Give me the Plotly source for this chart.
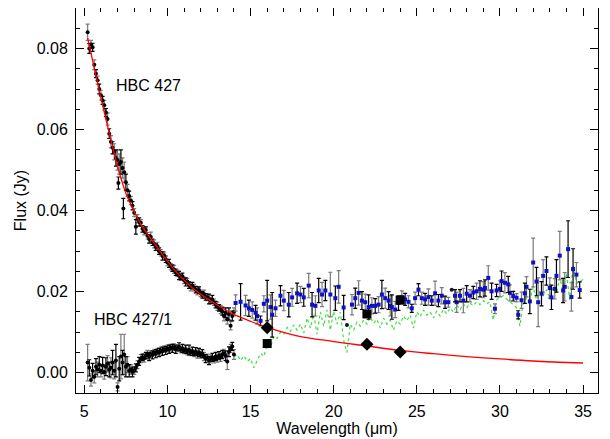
import plotly.graph_objects as go

# ---------------- data ----------------
# HBC 427 (short-low module, black points)
hbc_x = [5.2, 5.3, 5.4, 5.5, 5.6, 5.7, 5.8, 5.9, 6.0, 6.1, 6.2, 6.3, 6.4, 6.5, 6.6, 6.7, 6.8, 6.9,
         7.0, 7.05, 7.1, 7.2, 7.3, 7.35, 7.4, 7.5, 7.6, 7.7, 7.8, 7.9,
         8.0, 8.1, 8.2, 8.3, 8.4, 8.5, 8.6, 8.7, 8.8, 8.9, 9.0, 9.1, 9.2, 9.3, 9.4, 9.5, 9.6, 9.7, 9.8, 9.9,
         10.0, 10.1, 10.2, 10.3, 10.4, 10.5, 10.6, 10.7, 10.8, 10.9, 11.0, 11.1, 11.2, 11.3, 11.4, 11.5,
         11.6, 11.7, 11.8, 11.9, 12.0, 12.1, 12.2, 12.3, 12.4, 12.5, 12.6, 12.7, 12.8, 12.9,
         13.0, 13.1, 13.2, 13.3, 13.4, 13.5, 13.6, 13.7, 13.8, 13.9, 14.0]
hbc_y = [0.0840, 0.0800, 0.0810, 0.0803, 0.0760, 0.0738, 0.0722, 0.0700, 0.0685, 0.0672, 0.0660, 0.0642,
         0.0626, 0.0590, 0.0570, 0.0555, 0.0545, 0.0530,
         0.0525, 0.0468, 0.0515, 0.0520, 0.0505, 0.0405, 0.0495, 0.0470, 0.0450, 0.0436, 0.0425, 0.0412,
         0.0395, 0.0360, 0.0380, 0.0372, 0.0370, 0.0355, 0.0350, 0.0352, 0.0338, 0.0330, 0.0335, 0.0322,
         0.0318, 0.0310, 0.0312, 0.0300, 0.0296, 0.0288, 0.0290, 0.0280,
         0.0272, 0.0270, 0.0262, 0.0258, 0.0255, 0.0248, 0.0245, 0.0240, 0.0236, 0.0238, 0.0228, 0.0224,
         0.0225, 0.0216, 0.0212, 0.0215,
         0.0210, 0.0205, 0.0202, 0.0204, 0.0196, 0.0192, 0.0194, 0.0187, 0.0186, 0.0182, 0.0178, 0.0181,
         0.0174, 0.0168,
         0.0164, 0.0160, 0.0156, 0.0152, 0.0140, 0.0148, 0.0132, 0.0145, 0.0116, 0.0140, 0.0150]
hbc_err = [0.0020, 0.0012, 0.0010, 0.0010, 0.0012, 0.0010, 0.0010, 0.0012, 0.0012, 0.0010, 0.0012, 0.0010,
           0.0015, 0.0012, 0.0015, 0.0015, 0.0020, 0.0020,
           0.0025, 0.0015, 0.0025, 0.0030, 0.0025, 0.0025, 0.0025, 0.0020, 0.0015, 0.0012, 0.0010, 0.0010,
           0.0010, 0.0018, 0.0010, 0.0010, 0.0008, 0.0008, 0.0010, 0.0008, 0.0008, 0.0010, 0.0012, 0.0008,
           0.0010, 0.0008, 0.0010, 0.0008, 0.0008, 0.0010, 0.0008, 0.0008,
           0.0008, 0.0010, 0.0008, 0.0008, 0.0010, 0.0008, 0.0008, 0.0010, 0.0008, 0.0008, 0.0008, 0.0010,
           0.0008, 0.0008, 0.0010, 0.0008,
           0.0008, 0.0008, 0.0010, 0.0008, 0.0008, 0.0008, 0.0010, 0.0008, 0.0008, 0.0012, 0.0008, 0.0010,
           0.0008, 0.0008,
           0.0010, 0.0008, 0.0010, 0.0010, 0.0012, 0.0012, 0.0012, 0.0015, 0.0010, 0.0012, 0.0010]

# HBC 427/1 (companion, black points)
comp_x = [5.2, 5.3, 5.4, 5.5, 5.6, 5.7, 5.8, 5.9, 6.0, 6.1, 6.2, 6.3, 6.4, 6.5, 6.6, 6.7, 6.8, 6.9,
          7.0, 7.1, 7.2, 7.3, 7.4, 7.5, 7.6, 7.7, 7.8, 7.9,
          8.0, 8.1, 8.2, 8.3, 8.4, 8.5, 8.6, 8.7, 8.8, 8.9, 9.0, 9.1, 9.2, 9.3, 9.4, 9.5, 9.6, 9.7, 9.8, 9.9,
          10.0, 10.1, 10.2, 10.3, 10.4, 10.5, 10.6, 10.7, 10.8, 10.9, 11.0, 11.1, 11.2, 11.3, 11.4, 11.5,
          11.6, 11.7, 11.8, 11.9, 12.0, 12.1, 12.2, 12.3, 12.4, 12.5, 12.6, 12.7, 12.8, 12.9,
          13.0, 13.1, 13.2, 13.3, 13.4, 13.5, 13.6, 13.7, 13.8, 13.9, 14.0]
comp_y = [0.0025, 0.0012, -0.0018, 0.0005, -0.0010, 0.0015, 0.0008, 0.0020, 0.0005, 0.0018, 0.0002, 0.0015,
          0.0022, 0.0008, 0.0012, 0.0025, 0.0005, 0.0030,
          -0.0035, 0.0010, 0.0040, 0.0025, 0.0045, 0.0015, 0.0020, 0.0005, 0.0008, 0.0002,
          0.0006, 0.0012, 0.0020, 0.0028, 0.0035, 0.0038, 0.0036, 0.0042, 0.0045, 0.0040, 0.0046, 0.0044,
          0.0050, 0.0047, 0.0052, 0.0050, 0.0055, 0.0053, 0.0058, 0.0055,
          0.0060, 0.0058, 0.0062, 0.0060, 0.0063, 0.0058, 0.0061, 0.0064, 0.0057, 0.0060, 0.0055, 0.0058,
          0.0052, 0.0056, 0.0050, 0.0053,
          0.0048, 0.0052, 0.0046, 0.0050, 0.0044, 0.0047, 0.0040, 0.0035, 0.0038, 0.0030, 0.0034, 0.0038,
          0.0032, 0.0040,
          0.0036, 0.0042, 0.0038, 0.0045, 0.0048, 0.0042, 0.0028, 0.0052, 0.0060, 0.0065, 0.0045]
comp_err = [0.0045, 0.0020, 0.0015, 0.0018, 0.0015, 0.0020, 0.0018, 0.0020, 0.0015, 0.0020, 0.0018, 0.0022,
            0.0020, 0.0018, 0.0025, 0.0030, 0.0020, 0.0040,
            0.0010, 0.0030, 0.0055, 0.0030, 0.0050, 0.0025, 0.0020, 0.0015, 0.0012, 0.0012,
            0.0010, 0.0010, 0.0010, 0.0010, 0.0010, 0.0008, 0.0010, 0.0008, 0.0010, 0.0010, 0.0008, 0.0010,
            0.0008, 0.0010, 0.0008, 0.0010, 0.0008, 0.0010, 0.0008, 0.0010,
            0.0008, 0.0010, 0.0008, 0.0010, 0.0008, 0.0010, 0.0008, 0.0010, 0.0008, 0.0010, 0.0008, 0.0010,
            0.0008, 0.0012, 0.0008, 0.0010,
            0.0008, 0.0010, 0.0010, 0.0010, 0.0008, 0.0010, 0.0010, 0.0010, 0.0008, 0.0010, 0.0010, 0.0010,
            0.0008, 0.0010,
            0.0010, 0.0010, 0.0010, 0.0010, 0.0010, 0.0012, 0.0020, 0.0012, 0.0010, 0.0010, 0.0012]

# HBC 427 long-low module (blue points)
ll_x = [14.1, 14.4, 14.7, 14.9, 15.1, 15.3, 15.4, 15.6, 15.8, 16.0, 16.2, 16.3, 16.5, 16.8, 17.0, 17.3,
        17.5, 17.8, 18.0, 18.2, 18.5, 18.7, 18.9, 19.1, 19.3, 19.5, 19.8, 20.1, 20.3, 20.6, 21.1,
        21.3, 21.5, 21.7, 21.9, 22.1, 22.3, 22.5, 22.7, 22.9, 23.1, 23.3, 23.4, 23.5, 23.7, 23.9,
        24.1, 24.3, 24.5, 24.7, 24.9, 25.1, 25.3, 25.5, 25.7, 25.9, 26.1, 26.3, 26.5, 26.7, 26.9,
        27.3, 27.4, 27.6, 27.8, 28.0, 28.2, 28.4, 28.6, 28.8, 29.0, 29.1, 29.3, 29.5, 29.7, 29.8,
        30.0, 30.1, 30.3, 30.5, 30.6, 30.8, 31.0, 31.1, 31.3, 31.5, 31.6, 31.8, 32.0, 32.2, 32.3,
        32.5, 32.6, 32.8, 33.0, 33.1, 33.3, 33.4, 33.6, 33.8, 33.9, 34.1, 34.3, 34.4, 34.6, 34.8]
ll_y = [0.0172, 0.0175, 0.0166, 0.0159, 0.0155, 0.0148, 0.0140, 0.0128, 0.0170, 0.0178, 0.0162, 0.0143,
        0.0159, 0.0190, 0.0178, 0.0168,
        0.0186, 0.0196, 0.0193, 0.0186, 0.0215, 0.0168, 0.0165, 0.0203, 0.0193, 0.0203, 0.0193, 0.0184,
        0.0212, 0.0161, 0.0168,
        0.0184, 0.0197, 0.0178, 0.0174, 0.0162, 0.0165, 0.0165, 0.0168, 0.0193, 0.0184, 0.0178, 0.0165,
        0.0162, 0.0156, 0.0172,
        0.0187, 0.0181, 0.0175, 0.0159, 0.0184, 0.0205, 0.0184, 0.0181, 0.0187, 0.0178, 0.0196, 0.0178,
        0.0190, 0.0174, 0.0174,
        0.0190, 0.0174, 0.0190, 0.0178, 0.0195, 0.0190, 0.0198, 0.0201, 0.0207, 0.0205, 0.0209, 0.0234,
        0.0201, 0.0158, 0.0203,
        0.0207, 0.0226, 0.0222, 0.0218, 0.0197, 0.0189, 0.0185, 0.0143, 0.0179, 0.0196, 0.0212, 0.0176,
        0.0272, 0.0225, 0.0174,
        0.0195, 0.0239, 0.0251, 0.0209, 0.0186, 0.0207, 0.0239, 0.0289, 0.0203, 0.0212, 0.0305, 0.0187,
        0.0256, 0.0242, 0.0204]
ll_err = [0.0020, 0.0045, 0.0025, 0.0020, 0.0020, 0.0018, 0.0020, 0.0012, 0.0020, 0.0050, 0.0030, 0.0055,
          0.0020, 0.0025, 0.0025, 0.0030,
          0.0022, 0.0025, 0.0020, 0.0022, 0.0030, 0.0030, 0.0025, 0.0030, 0.0030, 0.0025, 0.0055, 0.0030,
          0.0040, 0.0030, 0.0025,
          0.0025, 0.0030, 0.0022, 0.0020, 0.0030, 0.0020, 0.0018, 0.0020, 0.0035, 0.0025, 0.0022, 0.0025,
          0.0030, 0.0020, 0.0018,
          0.0015, 0.0015, 0.0015, 0.0010, 0.0015, 0.0015, 0.0015, 0.0015, 0.0020, 0.0012, 0.0030, 0.0015,
          0.0020, 0.0015, 0.0012,
          0.0015, 0.0025, 0.0015, 0.0030, 0.0020, 0.0015, 0.0015, 0.0020, 0.0020, 0.0020, 0.0020, 0.0030,
          0.0020, 0.0012, 0.0015,
          0.0020, 0.0025, 0.0025, 0.0020, 0.0020, 0.0012, 0.0010, 0.0010, 0.0020, 0.0025, 0.0025, 0.0030,
          0.0060, 0.0035, 0.0060,
          0.0030, 0.0040, 0.0035, 0.0025, 0.0030, 0.0025, 0.0040, 0.0060, 0.0030, 0.0035, 0.0070, 0.0035,
          0.0050, 0.0030, 0.0020]

# isolated dark points without error bars
dark_x = [20.8, 27.1]
dark_y = [0.0118, 0.0205]

# green dotted spectrum
green_x = [14.0, 14.2, 14.4, 14.6, 14.8, 15.0, 15.2, 15.4, 15.6, 15.8, 16.0, 16.2, 16.4, 16.6, 16.8,
           17.0, 17.2, 17.4, 17.6, 17.8, 18.0, 18.2, 18.4, 18.6, 18.8, 19.0, 19.2, 19.4, 19.6, 19.8,
           20.0, 20.2, 20.4, 20.6, 20.8, 21.0, 21.2, 21.4, 21.6, 21.8, 22.0, 22.2, 22.4, 22.6, 22.8,
           23.0, 23.2, 23.4, 23.6, 23.8, 24.0, 24.2, 24.4, 24.6, 24.8, 25.0, 25.2, 25.4, 25.6, 25.8,
           26.0, 26.2, 26.4, 26.6, 26.8, 27.0, 27.2, 27.4, 27.6, 27.8, 28.0, 28.2, 28.4, 28.6, 28.8,
           29.0, 29.2, 29.4, 29.6, 29.8, 30.0, 30.2, 30.4, 30.6, 30.8, 31.0, 31.2, 31.4, 31.6, 31.8,
           32.0, 32.2, 32.4, 32.6, 32.8, 33.0, 33.2, 33.4, 33.6, 33.8, 34.0, 34.2, 34.4, 34.6, 34.8, 35.0]
green_y = [0.0040, 0.0045, 0.0030, 0.0042, 0.0028, 0.0035, 0.0012, 0.0030, 0.0048, 0.0040, 0.0070, 0.0062,
           0.0090, 0.0085, 0.0100,
           0.0095, 0.0112, 0.0102, 0.0118, 0.0105, 0.0120, 0.0098, 0.0135, 0.0110, 0.0145, 0.0095, 0.0150,
           0.0115, 0.0155, 0.0105,
           0.0152, 0.0120, 0.0150, 0.0080, 0.0050, 0.0120, 0.0105, 0.0125, 0.0115, 0.0130, 0.0120, 0.0138,
           0.0122, 0.0132, 0.0110,
           0.0135, 0.0120, 0.0130, 0.0105, 0.0128, 0.0120, 0.0140, 0.0128, 0.0142, 0.0110, 0.0150, 0.0138,
           0.0155, 0.0142, 0.0150,
           0.0135, 0.0152, 0.0140, 0.0156, 0.0145, 0.0160, 0.0150, 0.0168, 0.0155, 0.0170, 0.0160, 0.0172,
           0.0165, 0.0175, 0.0168,
           0.0178, 0.0170, 0.0175, 0.0130, 0.0180, 0.0185, 0.0190, 0.0182, 0.0176, 0.0168, 0.0160, 0.0115,
           0.0172, 0.0185, 0.0178,
           0.0212, 0.0180, 0.0200, 0.0190, 0.0205, 0.0185, 0.0210, 0.0195, 0.0235, 0.0200, 0.0245, 0.0180,
           0.0265, 0.0220, 0.0225, 0.0230]

# red photospheric model
model_x = [5.2, 5.5, 5.85, 6.45, 7.05, 7.5, 8.0, 8.5, 9.2, 10.4, 11.6, 12.8, 14.0, 15.0, 16.0, 17.8,
           20.0, 22.0, 24.0, 26.0, 28.0, 30.0, 32.0, 35.0]
model_y = [0.0826, 0.0770, 0.0705, 0.0600, 0.0502, 0.0443, 0.0398, 0.0360, 0.0320, 0.0255, 0.0206,
           0.0172, 0.0144, 0.0127, 0.0112, 0.0091, 0.0077, 0.0066, 0.0055, 0.0047, 0.0040, 0.0034,
           0.0029, 0.0024]

# photometry
diamond_x = [16.0, 22.0, 24.0]
diamond_y = [0.0111, 0.0070, 0.0051]
square_x = [16.0, 22.0, 24.0]
square_y = [0.0072, 0.0145, 0.0179]

labels = ["HBC 427", "HBC 427/1"]
label_x = [8.85, 7.95]
label_y = [0.0709, 0.0131]

FONT = "Liberation Sans"

# ---------------- figure ----------------
fig = go.Figure()

fig.add_trace(go.Scatter(x=green_x, y=green_y, mode="lines",
                         line=dict(color="#3ee03e", width=1.2, dash="dot"), showlegend=False))


def add_points(xs, ys, es, color, symbol, size):
    for k, ecol in enumerate(["#7a7a7a", "#000000"]):
        fig.add_trace(go.Scatter(
            x=xs[k::2], y=ys[k::2], mode="markers",
            marker=dict(color=color, size=size, symbol=symbol),
            error_y=dict(type="data", array=es[k::2], color=ecol, thickness=1.2, width=2),
            showlegend=False))


add_points(hbc_x, hbc_y, hbc_err, "#000000", "circle", 4)
add_points(comp_x, comp_y, comp_err, "#000000", "circle", 4)
add_points(ll_x, ll_y, ll_err, "#1010c8", "square", 4)

fig.add_trace(go.Scatter(x=dark_x, y=dark_y, mode="markers",
                         marker=dict(color="#101040", size=4, symbol="circle"), showlegend=False))

fig.add_trace(go.Scatter(x=model_x, y=model_y, mode="lines", line_shape="spline",
                         line=dict(color="#ff0000", width=1.3), showlegend=False))

fig.add_trace(go.Scatter(x=diamond_x, y=diamond_y, mode="markers",
                         marker=dict(color="#000000", size=10, symbol="diamond"), showlegend=False))
fig.add_trace(go.Scatter(x=square_x, y=square_y, mode="markers",
                         marker=dict(color="#000000", size=9, symbol="square"), showlegend=False))

for t, lx, ly in zip(labels, label_x, label_y):
    fig.add_annotation(x=lx, y=ly, text=t, showarrow=False,
                       font=dict(size=16, color="#000000", family=FONT))

axis_common = dict(
    showline=True, linecolor="#000000", linewidth=1, mirror="ticks",
    ticks="inside", ticklen=8, tickwidth=1, tickcolor="#000000",
    showgrid=False, zeroline=False, automargin=False,
    tickfont=dict(size=16, color="#000000", family=FONT),
)

fig.update_xaxes(range=[4.5, 35.9], dtick=5, tick0=5, ticklabelstandoff=4,
                 minor=dict(ticks="inside", ticklen=4, dtick=1, tickcolor="#000000", showgrid=False),
                 title=dict(text="Wavelength (μm)", font=dict(size=16, color="#000000", family=FONT),
                            standoff=2),
                 **axis_common)
fig.update_yaxes(range=[-0.005, 0.09], dtick=0.02, tick0=0, tickformat=".2f", ticklabelstandoff=4,
                 minor=dict(ticks="inside", ticklen=4, dtick=0.005, tickcolor="#000000", showgrid=False),
                 title=dict(text="Flux (Jy)", font=dict(size=16, color="#000000", family=FONT),
                            standoff=6),
                 **axis_common)

# the page body adds an 8 px offset, so the figure is 8 px smaller with matching margins
fig.update_layout(width=602, height=431, margin=dict(l=68, r=12, t=0, b=46),
                  plot_bgcolor="#ffffff", paper_bgcolor="#ffffff",
                  font=dict(family=FONT, size=16, color="#000000"))

fig.write_html("out.html")
